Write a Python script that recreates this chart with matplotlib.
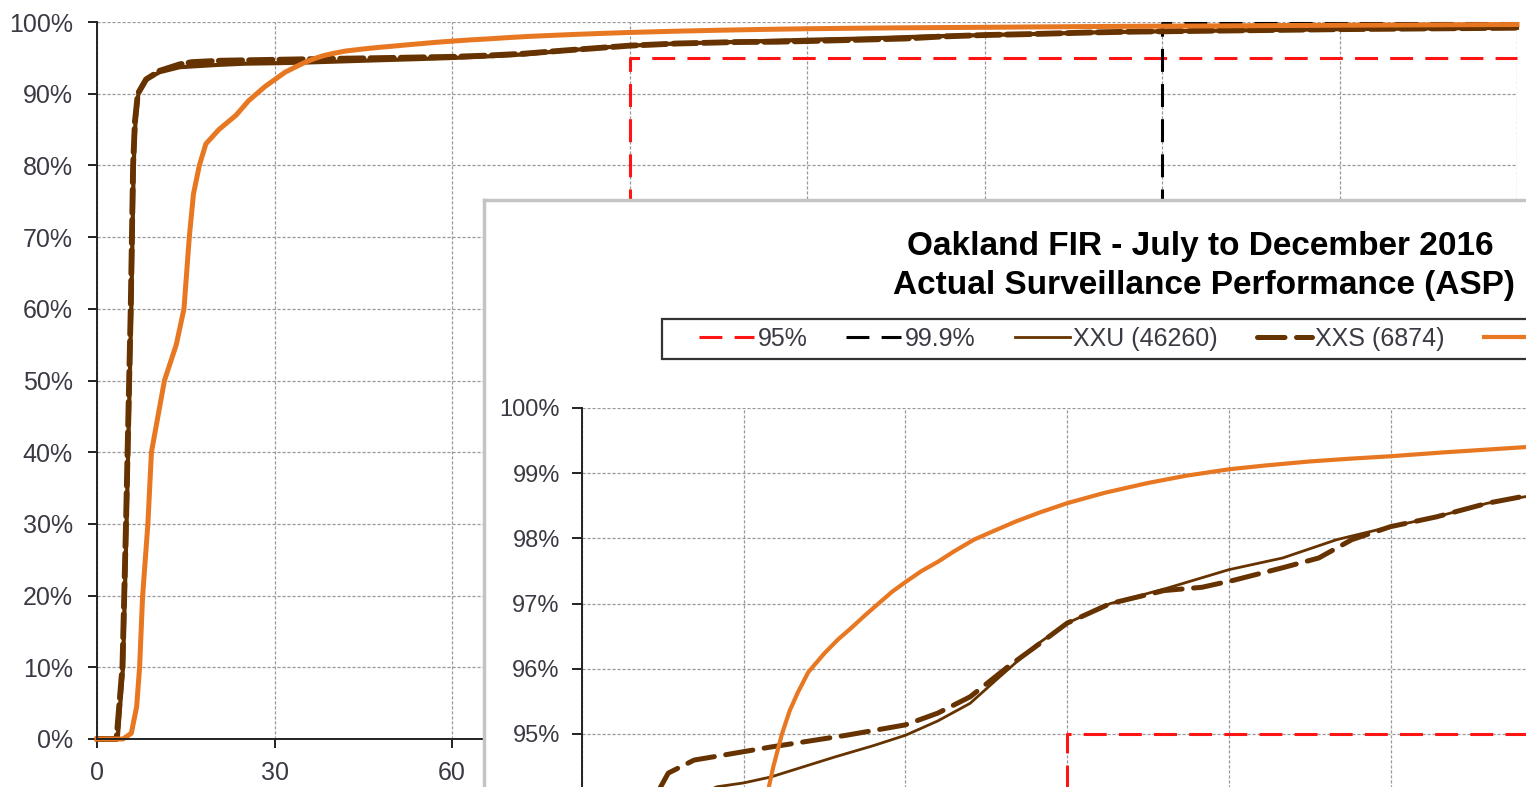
import matplotlib.pyplot as plt
from matplotlib.patches import Rectangle
from matplotlib.ticker import PercentFormatter, MultipleLocator

plt.rcParams['font.family'] = ['Liberation Sans', 'DejaVu Sans']

# data (x = seconds, y = cumulative %)
xxu_x = [0, 3.5, 4.4, 5.0, 5.8, 6.2, 6.5, 7.0, 8.3, 10.6, 14, 20, 25, 30, 35, 47, 54,
         60, 66, 72, 77.4, 84, 90, 98, 108.7, 120, 130, 140, 150, 158.5, 168, 175,
         180, 195, 210, 225, 240]
xxu_y = [0, 0, 10, 30, 60, 80, 86, 90, 92, 93, 93.7, 94.0, 94.19, 94.25, 94.34, 94.65, 94.82,
         94.98, 95.2, 95.47, 95.87, 96.35, 96.7, 97.0, 97.24, 97.52, 97.7, 97.98, 98.18, 98.33,
         98.54, 98.64, 98.7, 98.85, 99.0, 99.1, 99.2]

xxs_x = [0, 3.3, 4.3, 4.9, 5.7, 6.1, 6.4, 6.9, 8.3, 10.6, 14, 16, 20.8, 26.5, 35, 49,
         60, 66, 72, 79, 84, 90, 98, 108, 115, 121, 130, 136.7, 142.8, 150, 158.5,
         168, 175, 180, 210, 240]
xxs_y = [0, 0, 10, 30, 60, 80, 86, 90, 92, 93.2, 94.1, 94.4, 94.6, 94.68, 94.8, 94.98,
         95.14, 95.32, 95.57, 96.03, 96.33, 96.7, 97.0, 97.2, 97.25, 97.36, 97.55, 97.7,
         97.98, 98.18, 98.33, 98.54, 98.65, 98.7, 99.0, 99.2]

orange_x = [0, 4.4, 5.8, 6.7, 7.2, 7.7, 8.6, 9.2, 11.4, 13.4, 14.7, 15.6, 16.3, 17.3, 18.4,
            20.6, 23.5, 25.6, 28.4, 31.8, 34.7, 35.5, 37.1, 38.5, 40, 42, 45, 47.5, 50, 52.5,
            55, 57.5, 60, 63, 66, 69, 72.7, 76, 80.5, 85, 90, 97, 105, 112, 120, 127, 135,
            142, 150, 160, 175, 210, 240]
orange_y = [0, 0, 0.8, 4.5, 10, 19.8, 30, 40, 50, 55, 60, 70, 76, 80, 83,
            85, 87, 89, 91, 93, 94.2, 94.5, 95.0, 95.35, 95.63, 95.95, 96.24, 96.45, 96.63, 96.82,
            97.0, 97.18, 97.33, 97.5, 97.64, 97.8, 97.98, 98.1, 98.26, 98.4, 98.54, 98.7, 98.85,
            98.96, 99.06, 99.12, 99.18, 99.22, 99.26, 99.32, 99.4, 99.55, 99.65]

t95_x = [90, 90, 240]
t95_y = [0, 95, 95]
t999_x = [180, 180, 240]
t999_y = [0, 99.9, 99.9]

labels = ['95%', '99.9%', 'XXU (46260)', 'XXS (6874)', '']
red = '#FF1414'
brown = '#663300'
orange = '#E87722'
tick_col = '#3a3a44'
W, H = 1526, 787

fig = plt.figure(figsize=(W / 100, H / 100), dpi=100)


def style_axes(ax, fs, ypad, ylen):
    ax.grid(True, color='#999999', linestyle=(0, (2.5, 1.5)), linewidth=0.9)
    ax.set_axisbelow(True)
    for s in ['top', 'right']:
        ax.spines[s].set_visible(False)
    for s in ['left', 'bottom']:
        ax.spines[s].set_color('#222222')
        ax.spines[s].set_linewidth(1.4)
    ax.tick_params(axis='y', labelsize=fs, labelcolor=tick_col, length=ylen, width=1.4,
                   pad=ypad, color='#222222')
    ax.tick_params(axis='x', labelsize=fs, labelcolor=tick_col, length=6.5, width=1.4,
                   pad=9, color='#222222')
    ax.yaxis.set_major_formatter(PercentFormatter(xmax=100, decimals=0))


# main chart
ax = fig.add_axes([97 / W, 48 / H, 1420 / W, 717 / H])
ax.set_xlim(0, 240)
ax.set_ylim(0, 100)
ax.set_xticks(range(0, 241, 30))
ax.set_xticklabels(['0', '30', '60'] + [''] * 6)  # the rest sit under the overlaid chart
ax.yaxis.set_major_locator(MultipleLocator(10))
style_axes(ax, 18, 11, 6.5)
ax.plot(t95_x, t95_y, color=red, lw=2.2, dashes=(7.5, 4), clip_on=False)
ax.plot(t999_x, t999_y, color='black', lw=2.2, dashes=(7.5, 4), clip_on=False)
ax.plot(xxu_x, xxu_y, color=brown, lw=3, clip_on=False)
ax.plot(xxs_x, xxs_y, color=brown, lw=4.2, dashes=(4, 1.2), dash_capstyle='round', clip_on=False)
ax.plot(orange_x, orange_y, color=orange, lw=3.6, clip_on=False)

# white panel of the overlaid chart
panel = fig.add_axes([484 / W, -0.05, 0.75, (787 - 200) / H + 0.05], zorder=1)
panel.set_facecolor('white')
panel.set_xticks([])
panel.set_yticks([])
for s in panel.spines.values():
    s.set_color('#c4c4c4')
    s.set_linewidth(2.5)

# zoomed chart
ins = fig.add_axes([582 / W, (787 - 408 - 652) / H, 240 * 5.39 / W, 652 / H], zorder=2)
ins.set_xlim(0, 240)
ins.set_ylim(90, 100)
ins.set_xticks(range(0, 241, 30))
ins.set_xticklabels([])
ins.set_yticks(range(95, 101))
style_axes(ins, 17, 9, 7)
h1, = ins.plot(t95_x, t95_y, color=red, lw=2.2, dashes=(7.5, 4))
h2, = ins.plot(t999_x, t999_y, color='black', lw=2.2, dashes=(7.5, 4))
h3, = ins.plot(xxu_x, xxu_y, color=brown, lw=2)
h4, = ins.plot(xxs_x, xxs_y, color=brown, lw=3.6, dashes=(5.5, 2.3), dash_capstyle='round')
h5, = ins.plot(orange_x, orange_y, color=orange, lw=3)

fig.text(1200 / W, (787 - 246) / H, 'Oakland FIR - July to December 2016',
         ha='center', va='center', fontsize=24, fontweight='bold', zorder=3)
fig.text(1204 / W, (787 - 286) / H, 'Actual Surveillance Performance (ASP)',
         ha='center', va='center', fontsize=24, fontweight='bold', zorder=3)

fig.add_artist(Rectangle((662 / W, (787 - 359) / H), 0.8, 40 / H, transform=fig.transFigure,
                         facecolor='white', edgecolor='#333333', lw=1.6, zorder=4))
fig.legend([h1, h2, h3, h4, h5], labels, loc='center left',
           bbox_to_anchor=(699 / W, (787 - 339) / H), ncol=5, frameon=False,
           borderpad=0, borderaxespad=0, fontsize=18, handlelength=2.2,
           handletextpad=0.15, columnspacing=1.55, labelcolor=tick_col)

fig.savefig('out.png', dpi=100)
